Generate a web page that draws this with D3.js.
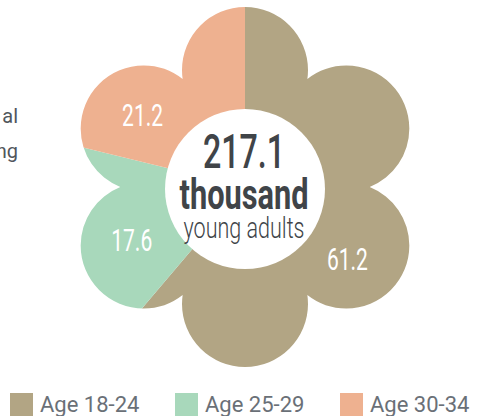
<!DOCTYPE html>
<html>
<head>
<meta charset="utf-8">
<script src="https://cdn.jsdelivr.net/npm/d3@7"></script>
<style>
  body { margin: 0; background: #fff; }
  svg { display: block; }
</style>
</head>
<body>
<div id="chart"></div>
<script>
const width = 486,
    height = 416;

// data
const categories = ["Age 18-24", "Age 25-29", "Age 30-34"];
const values = [61.2, 17.6, 21.2];
const colors = ["#b2a584", "#a8d8bb", "#eeb190"];
const totalLabel = ["217.1", "thousand", "young adults"];
const sideText = ["al", "ng"];

const cx = 245, cy = 187;
const petalDist = 117, petalR = 63, holeR = 80;

const svg = d3.select("#chart")
    .append("svg")
    .attr("width", width)
    .attr("height", height);

// flower shaped clip: 6 petals plus a filler disk
const petalAngles = d3.range(6).map(i => i * Math.PI / 3);
const clip = svg.append("defs").append("clipPath").attr("id", "flower");
clip.append("circle").attr("cx", cx).attr("cy", cy).attr("r", petalDist);
clip.selectAll("circle.petal")
    .data(petalAngles)
    .enter().append("circle")
    .attr("class", "petal")
    .attr("cx", a => cx + petalDist * Math.sin(a))
    .attr("cy", a => cy - petalDist * Math.cos(a))
    .attr("r", petalR);

const pie = d3.pie().sort(null).value(d => d.value);
const arcs = pie(categories.map((c, i) => ({ cat: c, value: values[i], color: colors[i] })));
const arc = d3.arc().innerRadius(0).outerRadius(220);

svg.append("g")
    .attr("clip-path", "url(#flower)")
    .append("g")
    .attr("transform", `translate(${cx},${cy})`)
    .selectAll("path")
    .data(arcs)
    .enter().append("path")
    .attr("d", arc)
    .attr("fill", d => d.data.color);

const g = svg.append("g").attr("transform", `translate(${cx},${cy})`);

// white hole
g.append("circle").attr("cy", 2).attr("r", holeR).attr("fill", "#fff");

// value labels, sitting on the petal nearest each slice's middle
const labelR = 125, labelShift = 5 * Math.PI / 180;
g.selectAll("text.val")
    .data(arcs)
    .enter().append("text")
    .attr("class", "val")
    .each(function (d) {
        const mid = (d.startAngle + d.endAngle) / 2;
        const a = Math.round(mid / (Math.PI / 3)) * (Math.PI / 3) + labelShift;
        d3.select(this)
            .attr("x", labelR * Math.sin(a))
            .attr("y", -labelR * Math.cos(a) + 11);
    })
    .attr("text-anchor", "middle")
    .attr("font-family", "Roboto, sans-serif")
    .attr("font-size", 32)
    .attr("fill", "#fff")
    .attr("textLength", 41)
    .attr("lengthAdjust", "spacingAndGlyphs")
    .text(d => d.data.value.toFixed(1));

// centre text
const centre = [
    { t: totalLabel[0], y: -19, size: 48, weight: 500, w: 82 },
    { t: totalLabel[1], y: 22, size: 42, weight: 700, w: 129 },
    { t: totalLabel[2], y: 51, size: 30, weight: 300, w: 121 }
];
g.selectAll("text.centre")
    .data(centre)
    .enter().append("text")
    .attr("class", "centre")
    .attr("x", -1)
    .attr("y", d => d.y)
    .attr("text-anchor", "middle")
    .attr("font-family", "Roboto, sans-serif")
    .attr("font-size", d => d.size)
    .attr("font-weight", d => d.weight)
    .attr("fill", "#404448")
    .attr("textLength", d => d.w)
    .attr("lengthAdjust", "spacingAndGlyphs")
    .text(d => d.t);

// clipped text on the left edge
svg.selectAll("text.side")
    .data(sideText)
    .enter().append("text")
    .attr("class", "side")
    .attr("x", 18)
    .attr("y", (d, i) => 123 + i * 35)
    .attr("text-anchor", "end")
    .attr("font-family", "Roboto, sans-serif")
    .attr("font-size", 20)
    .attr("fill", "#50565c")
    .text(d => d);

// legend
const legendX = d3.scalePoint().domain(categories).range([10, 340]);
const legend = svg.selectAll("g.legend")
    .data(categories)
    .enter().append("g")
    .attr("class", "legend")
    .attr("transform", d => `translate(${legendX(d)},393)`);
legend.append("rect")
    .attr("width", 23)
    .attr("height", 23)
    .attr("fill", (d, i) => colors[i]);
legend.append("text")
    .attr("x", 30)
    .attr("y", 19)
    .attr("font-family", "Roboto, sans-serif")
    .attr("font-size", 22)
    .attr("fill", "#6a7077")
    .text(d => d);
</script>
</body>
</html>
